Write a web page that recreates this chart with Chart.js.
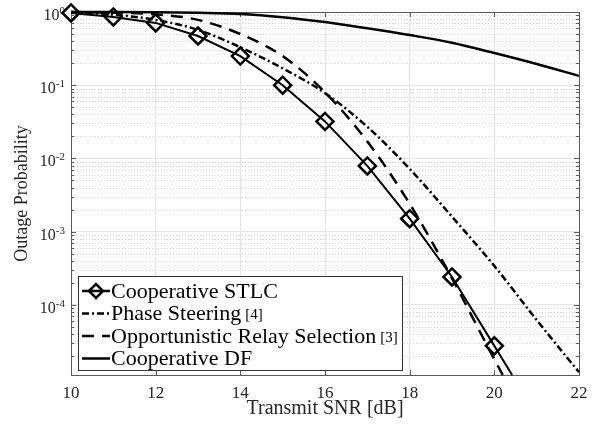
<!DOCTYPE html>
<html>
<head>
<meta charset="utf-8">
<script src="https://cdn.jsdelivr.net/npm/chart.js@4.4.0/dist/chart.umd.min.js"></script>
<style>
  html, body { margin: 0; padding: 0; background: #fff; }
  canvas { display: block; }
</style>
</head>
<body>
<canvas id="outage-chart" width="600" height="425"></canvas>
<script>
const snrSteps = [10, 11, 12, 13, 14, 15, 16, 17, 18, 19, 20, 21, 22];
const stlcSnr = [10, 11, 12, 13, 14, 15, 16, 17, 18, 19, 20, 20.42];
const stlcOutage = [0.97, 0.855, 0.71, 0.47, 0.25, 0.1, 0.032, 0.0079, 0.0015, 2.4e-4, 2.75e-5, 1.1e-5];
const phaseOutage = [1.0, 0.92, 0.78, 0.57, 0.33, 0.17, 0.078, 0.027, 0.0072, 0.0016, 3.4e-4, 6.2e-5, 1.2e-5];
const relaySnr = [10, 11, 12, 13, 14, 15, 16, 17, 18, 19, 20, 20.2];
const relayOutage = [1.0, 0.98, 0.93, 0.78, 0.5, 0.25, 0.08, 0.017, 0.0024, 2.3e-4, 1.8e-5, 1.1e-5];
const dfOutage = [1.0, 1.0, 0.995, 0.975, 0.94, 0.85, 0.73, 0.6, 0.485, 0.38, 0.275, 0.195, 0.134];

const xTicks = [10, 12, 14, 16, 18, 20, 22];
const yDecades = [0, -1, -2, -3, -4];
const seriesNames = ["Cooperative STLC", "Phase Steering", "Opportunistic Relay Selection", "Cooperative DF"];
const seriesRefs = ["", "[4]", "[3]", ""];

const serif = "'Liberation Serif', 'Times New Roman', serif";
const axisColor = "#5a5a5a";
const textColor = "#262626";
const dashDot = [7, 3, 2, 3];
const longDash = [12, 8];

function toPoints(xs, ys) {
    return xs.map((x, i) => ({ x: x, y: ys[i] }));
}

// grid, box, inward ticks and 10^n labels in the matlab look
const axesPlugin = {
    id: "matlabAxes",
    beforeDatasetsDraw(chart) {
        const { ctx, chartArea: area, scales: { x, y } } = chart;
        const left = Math.round(area.left), right = Math.round(area.right);
        const top = Math.round(area.top), bottom = Math.round(area.bottom);
        ctx.save();

        ctx.strokeStyle = "#d6d6d6";
        ctx.lineWidth = 1;
        ctx.setLineDash([1, 2]);
        for (let d = -5; d < 0; d++) {
            for (let k = 2; k <= 9; k++) {
                const v = k * Math.pow(10, d);
                if (v <= y.min || v >= y.max) continue;
                const py = Math.round(y.getPixelForValue(v)) + 0.5;
                ctx.beginPath();
                ctx.moveTo(left, py);
                ctx.lineTo(right, py);
                ctx.stroke();
            }
        }
        ctx.setLineDash([]);

        ctx.strokeStyle = axisColor;
        ctx.strokeRect(left + 0.5, top + 0.5, right - left, bottom - top);

        ctx.beginPath();
        xTicks.forEach(v => {
            const px = Math.round(x.getPixelForValue(v)) + 0.5;
            ctx.moveTo(px, bottom); ctx.lineTo(px, bottom - 5);
            ctx.moveTo(px, top); ctx.lineTo(px, top + 5);
        });
        for (let d = -5; d <= 0; d++) {
            for (let k = 1; k <= 9; k++) {
                const v = k * Math.pow(10, d);
                if (v < y.min || v > y.max) continue;
                const len = k === 1 ? 5 : 3;
                const py = Math.round(y.getPixelForValue(v)) + 0.5;
                ctx.moveTo(left, py); ctx.lineTo(left + len, py);
                ctx.moveTo(right, py); ctx.lineTo(right - len, py);
            }
        }
        ctx.stroke();

        ctx.fillStyle = textColor;
        ctx.textAlign = "left";
        ctx.textBaseline = "alphabetic";
        yDecades.forEach(d => {
            const py = y.getPixelForValue(Math.pow(10, d));
            const exp = String(d);
            ctx.font = "11px " + serif;
            const we = ctx.measureText(exp).width;
            ctx.font = "16px " + serif;
            const wb = ctx.measureText("10").width;
            const end = left - 6;
            ctx.fillText("10", end - we - wb, py + 8);
            ctx.font = "11px " + serif;
            ctx.fillText(exp, end - we, py + 2);
        });
        ctx.restore();
    },
    afterDatasetsDraw(chart) {
        const { ctx } = chart;
        ctx.save();
        const box = { l: 78.5, t: 276.5, r: 402.5, b: 370.5 };
        ctx.fillStyle = "#fff";
        ctx.fillRect(box.l, box.t, box.r - box.l, box.b - box.t);
        ctx.strokeStyle = "#333";
        ctx.lineWidth = 1;
        ctx.strokeRect(box.l, box.t, box.r - box.l, box.b - box.t);

        const dashes = [[], dashDot, longDash, []];
        seriesNames.forEach((name, i) => {
            const cy = 291 + i * 22.5;
            ctx.strokeStyle = "#000";
            ctx.lineWidth = 2.5;
            ctx.setLineDash(dashes[i]);
            ctx.beginPath();
            ctx.moveTo(82, cy);
            ctx.lineTo(110, cy);
            ctx.stroke();
            ctx.setLineDash([]);
            if (i === 0) {
                ctx.beginPath();
                ctx.moveTo(89, cy); ctx.lineTo(96, cy - 7);
                ctx.lineTo(103, cy); ctx.lineTo(96, cy + 7);
                ctx.closePath();
                ctx.stroke();
            }
            ctx.fillStyle = "#000";
            ctx.textAlign = "left";
            ctx.textBaseline = "middle";
            ctx.font = "22px " + serif;
            ctx.fillText(name, 111, cy + 1);
            if (seriesRefs[i]) {
                const w = ctx.measureText(name).width;
                ctx.font = "15px " + serif;
                ctx.fillText(seriesRefs[i], 111 + w + 4, cy + 2);
            }
        });
        ctx.restore();
    }
};

const ctx = document.getElementById("outage-chart").getContext("2d");

const outageChart = new Chart(ctx, {
    type: "line",
    data: {
        datasets: [
            {
                label: seriesNames[0],
                data: toPoints(stlcSnr, stlcOutage),
                borderColor: "#000",
                borderWidth: 2,
                tension: 0,
                pointStyle: "rectRot",
                pointRadius: stlcSnr.map((s, i) => i < stlcSnr.length - 1 ? 8.5 : 0),
                pointBorderWidth: 2.5,
                pointBorderColor: "#000",
                pointBackgroundColor: "rgba(0,0,0,0)",
                clip: 12
            },
            {
                label: seriesNames[1],
                data: toPoints(snrSteps, phaseOutage),
                borderColor: "#000",
                borderWidth: 2.5,
                borderDash: dashDot,
                cubicInterpolationMode: "monotone",
                pointRadius: 0,
                clip: 12
            },
            {
                label: seriesNames[2],
                data: toPoints(relaySnr, relayOutage),
                borderColor: "#000",
                borderWidth: 2.5,
                borderDash: longDash,
                cubicInterpolationMode: "monotone",
                pointRadius: 0,
                clip: 12
            },
            {
                label: seriesNames[3],
                data: toPoints(snrSteps, dfOutage),
                borderColor: "#000",
                borderWidth: 2.5,
                cubicInterpolationMode: "monotone",
                pointRadius: 0,
                clip: 12
            }
        ]
    },
    options: {
        responsive: false,
        animation: false,
        devicePixelRatio: 1,
        layout: { padding: { top: 12, right: 21, left: 0, bottom: 0 } },
        plugins: {
            legend: { display: false },
            tooltip: { enabled: false }
        },
        scales: {
            x: {
                type: "linear",
                min: 10,
                max: 22,
                afterFit: s => { s.height = 50; },
                ticks: {
                    stepSize: 2,
                    padding: 8,
                    color: textColor,
                    font: { family: serif, size: 17 }
                },
                grid: { color: "#e4e4e4", drawTicks: false },
                border: { display: false },
                title: {
                    display: true,
                    text: "Transmit SNR [dB]",
                    color: textColor,
                    font: { family: serif, size: 20 },
                    padding: { top: 0, bottom: 4 }
                }
            },
            y: {
                type: "logarithmic",
                min: 1.1e-5,
                max: 1,
                afterFit: s => { s.width = 71; },
                afterBuildTicks: s => { s.ticks = yDecades.map(d => ({ value: Math.pow(10, d) })); },
                ticks: { display: false },
                grid: { color: "#e4e4e4", drawTicks: false },
                border: { display: false },
                title: {
                    display: true,
                    text: "Outage Probability",
                    color: textColor,
                    font: { family: serif, size: 18 },
                    padding: { top: 11, bottom: 0 }
                }
            }
        }
    },
    plugins: [axesPlugin]
});
</script>
</body>
</html>
